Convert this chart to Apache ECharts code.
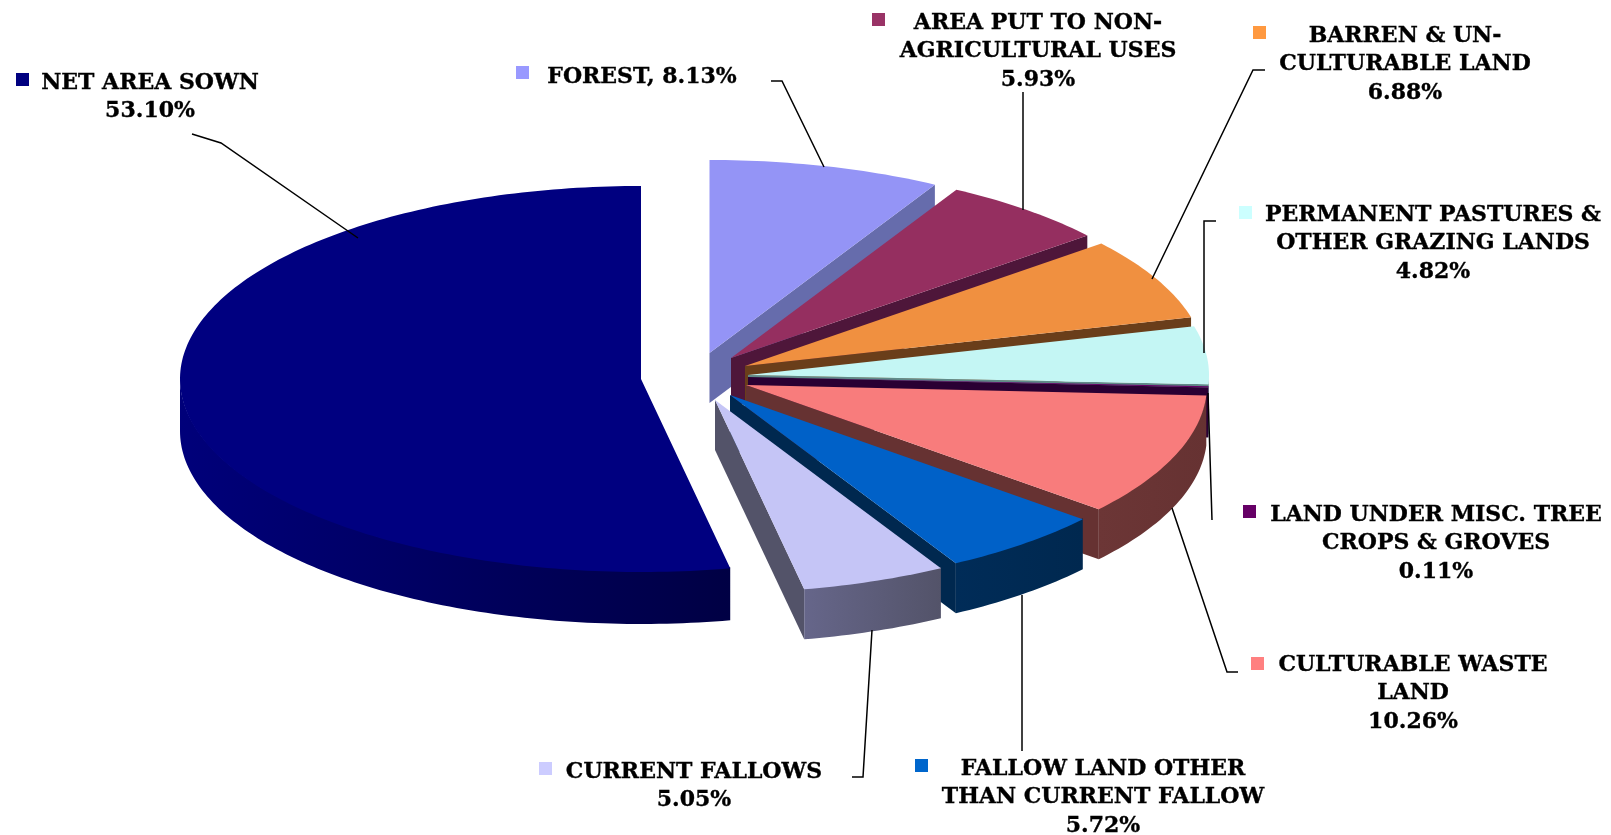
<!DOCTYPE html>
<html>
<head>
<meta charset="utf-8">
<style>html,body{margin:0;padding:0;background:#fff}#c{width:1611px;height:835px}</style>
<script src="https://cdn.jsdelivr.net/npm/echarts@6/dist/echarts.min.js"></script>
</head>
<body>
<div id="c"></div>
<script>
// ---- data ----
var categories = ['NET AREA SOWN','FOREST','AREA PUT TO NON-AGRICULTURAL USES','BARREN & UN-CULTURABLE LAND','PERMANENT PASTURES & OTHER GRAZING LANDS','LAND UNDER MISC. TREE CROPS & GROVES','CULTURABLE WASTE LAND','FALLOW LAND OTHER THAN CURRENT FALLOW','CURRENT FALLOWS'];
var shares = [53.10,8.13,5.93,6.88,4.82,0.11,10.26,5.72,5.05];
var labelLines = [['NET AREA SOWN'],['FOREST,'],['AREA PUT TO NON-','AGRICULTURAL USES'],['BARREN & UN-','CULTURABLE LAND'],['PERMANENT PASTURES &','OTHER GRAZING LANDS'],['LAND UNDER MISC. TREE','CROPS & GROVES'],['CULTURABLE WASTE','LAND'],['FALLOW LAND OTHER','THAN CURRENT FALLOW'],['CURRENT FALLOWS']];
// ---- styles ----
var topColors = ['#000080','#9494F6','#952F60','#F09040','#C4F6F4','#660066','#F87C7C','#0061C8','#C5C5F6'];
var keyColors = ['#000080','#9999FF','#993366','#FF9940','#CCFFFF','#660066','#FF8080','#0066CC','#CCCCFF'];
var wallFrom  = ['#00007A','#6E74BC','#54193F','#70421D','#5F8A88','#2A0033','#6C3636','#002C58','#66668A'];
var wallTo    = ['#000044','#666CAC','#4E163A','#6A3E1A','#5F8A88','#2A0033','#663232','#00284F','#535369'];
// ---- layout (picture space) ----
var RX = 461, RY = 193;
var depths = [52,50,50,50,50,50,50,50,50];
var apexes = [[641,379],[709.5,353],[731,358],[745,366],[748,375],[748,377],[746,385],[730,395],[715,400]];
var keys = [[16,73],[516,66],[872,13],[1253,26],[1239,206],[1243,505],[1251,657],[915,759],[539,762]];
var textCx = [150,642,1038,1405,1433,1436,1413,1103,694];
var textTop = [83,77,23,36,215,515,665,769,772];
var LINE_H = 28.4;
var leaders = [
  [[192,134],[221,143],[358,238]],
  [[771,81],[782,81],[824,167]],
  [[1023,92],[1023,210]],
  [[1265,70],[1253,70],[1152,279]],
  [[1216,221],[1204,221],[1204,353]],
  [[1208,393],[1212,520]],
  [[1172,508],[1227,672],[1238,672]],
  [[1022,595],[1022,751]],
  [[872,630],[863,777],[852,777]]
];
var FONT = 'bold 22px "DejaVu Serif", serif';

var starts = [], a = -shares[0] / 100 * 360;
shares.forEach(function (v) { starts.push(a); a += v / 100 * 360; });

function sliceItem(params, api) {
  var i = api.value(0);
  var s = starts[i], e = s + api.value(1) / 100 * 360;
  var ax = apexes[i][0], ay = apexes[i][1], DEPTH = depths[i];
  var rad = Math.PI / 180;
  function rim(d, dz) { return [ax + RX * Math.sin(d * rad), ay - RY * Math.cos(d * rad) + (dz || 0)]; }
  function px(p) { return api.coord(p); }
  function arc(d0, d1, dz) {
    var pts = [], n = Math.max(2, Math.ceil(Math.abs(d1 - d0)));
    for (var k = 0; k <= n; k++) pts.push(rim(d0 + (d1 - d0) * k / n, dz));
    return pts;
  }
  var s0 = s < 0 ? s + 360 : s, e0 = s < 0 ? e + 360 : e;
  var fill = function (x0, x1) {
    var p0 = px([x0, 0]), p1 = px([x1, 0]);
    return new echarts.graphic.LinearGradient(p0[0], 0, p1[0], 0, [
      { offset: 0, color: wallFrom[i] }, { offset: 1, color: wallTo[i] }], true);
  };
  var children = [];
  if (e0 > 0 && e0 < 180) {
    var r = rim(e0);
    var quad = [[ax, ay], r, [r[0], r[1] + DEPTH], [ax, ay + DEPTH]];
    children.push({ type: 'polygon', shape: { points: quad.map(px) }, style: { fill: wallTo[i] } });
  }
  if (s0 > 180 && s0 < 360) {
    var r2 = rim(s0);
    var quad2 = [[ax, ay], r2, [r2[0], r2[1] + DEPTH], [ax, ay + DEPTH]];
    children.push({ type: 'polygon', shape: { points: quad2.map(px) }, style: { fill: wallTo[i] } });
  }
  var w0 = Math.max(s0, 90), w1 = Math.min(e0, 270);
  if (w1 > w0) {
    var up = arc(w0, w1, -1), down = arc(w1, w0, DEPTH);
    var all = up.concat(down);
    var xs = all.map(function (p) { return p[0]; });
    var minX = Math.min.apply(null, xs), maxX = Math.max.apply(null, xs);
    children.push({ type: 'polygon', shape: { points: all.map(px) }, style: { fill: fill(minX, maxX) } });
  }
  var face = [[ax, ay]].concat(arc(s0, e0, 0));
  children.push({ type: 'polygon', shape: { points: face.map(px) }, style: { fill: topColors[i] } });
  return { type: 'group', children: children };
}

function labelItem(params, api) {
  var i = api.value(0), v = api.value(1);
  var pct = v.toFixed(2) + '%';
  var lines = labelLines[i].slice();
  if (lines[0].slice(-1) === ',') lines[0] += ' ' + pct; else lines.push(pct);
  var k = api.coord(keys[i]), children = [];
  children.push({ type: 'polyline', shape: { points: leaders[i].map(function (p) { return api.coord(p); }) },
    style: { stroke: '#000', lineWidth: 1.5, fill: null } });
  children.push({ type: 'rect', shape: { x: k[0], y: k[1], width: 13, height: 13 }, style: { fill: keyColors[i] } });
  lines.forEach(function (t, n) {
    var c = api.coord([textCx[i], textTop[i] + n * LINE_H]);
    children.push({ type: 'text', style: { text: t, x: c[0], y: c[1], fill: '#000', stroke: '#000', lineWidth: 0.35, font: FONT, align: 'center', verticalAlign: 'middle' } });
  });
  return { type: 'group', children: children };
}

var rows = shares.map(function (v, i) { return { name: categories[i], value: [i, v] }; });
var chart = echarts.init(document.getElementById('c'));
chart.setOption({
  animation: false,
  backgroundColor: '#fff',
  grid: { left: 0, right: 0, top: 0, bottom: 0 },
  xAxis: { type: 'value', min: 0, max: 1611, show: false },
  yAxis: { type: 'value', min: 0, max: 835, inverse: true, show: false },
  series: [
    { type: 'custom', name: 'slices', coordinateSystem: 'cartesian2d', clip: false, silent: true, renderItem: sliceItem, data: rows, encode: { x: 0, y: 1 }, z: 2 },
    { type: 'custom', name: 'labels', coordinateSystem: 'cartesian2d', clip: false, silent: true, renderItem: labelItem, data: rows, encode: { x: 0, y: 1 }, z: 3 }
  ]
});
</script>
</body>
</html>
